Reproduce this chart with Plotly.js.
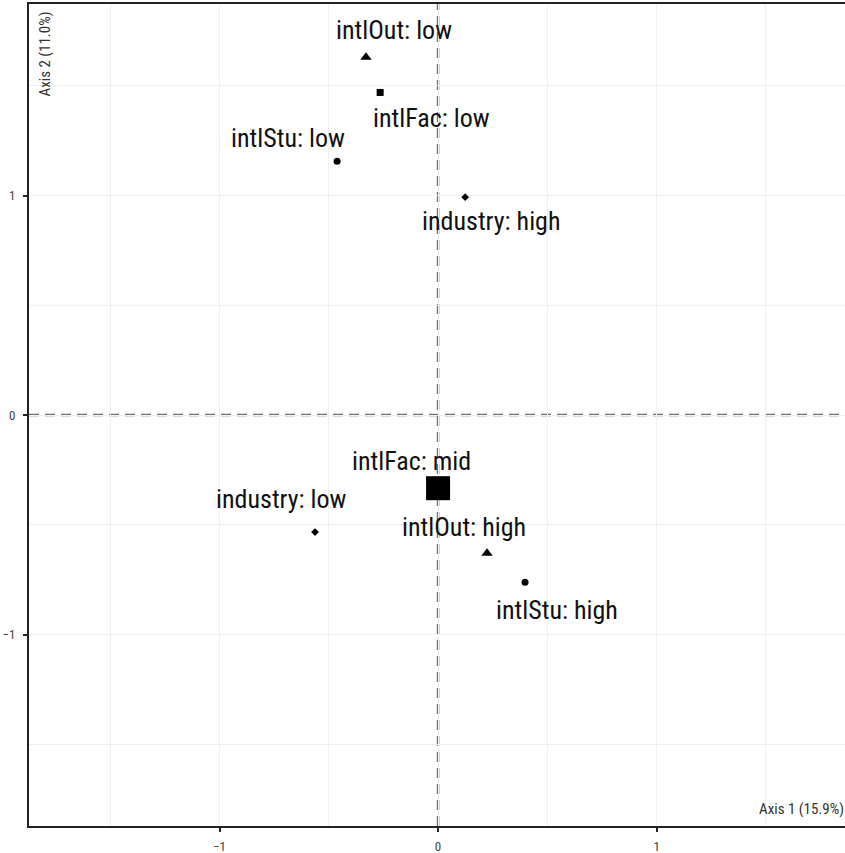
<!DOCTYPE html>
<html>
<head>
<meta charset="utf-8">
<script src="https://cdn.plot.ly/plotly-3.0.1.min.js"></script>
<style>
  html, body { margin: 0; padding: 0; overflow: hidden; background: #fff; }
  #chart { width: 848px; height: 853px; }
</style>
</head>
<body>
<div id="chart"></div>
<script>
// Category coordinates on the first two MCA axes
const labels = ["intlOut: low", "intlFac: low", "intlStu: low", "industry: high",
                "intlFac: mid", "industry: low", "intlOut: high", "intlStu: high"];
const variables = ["intlOut", "intlFac", "intlStu", "industry",
                   "intlFac", "industry", "intlOut", "intlStu"];
const dim1 = [-0.33, -0.265, -0.462, 0.124, 0.0, -0.563, 0.224, 0.398];
const dim2 = [1.63, 1.47, 1.157, 0.993, -0.333, -0.533, -0.629, -0.761];
const axisTitles = ["Axis 1 (15.9%)", "Axis 2 (11.0%)"];

// Styling: one symbol per variable, marker size per category, label offsets in px
const symbolOf = { intlOut: "triangle-up", intlFac: "square", intlStu: "circle", industry: "diamond" };
const markerSize = [10, 7, 7, 6, 24, 6, 10, 7];
const labelShift = [[28, 27], [51, -26], [-49, 23], [26, -24],
                    [-27, 27], [-34, 33], [-23, 26], [32, -28]];

const FONT = "'Roboto Condensed', 'Open Sans', sans-serif";

const trace = {
  type: "scatter",
  mode: "markers",
  x: dim1,
  y: dim2,
  text: labels,
  hoverinfo: "text",
  opacity: 1,
  marker: {
    color: "#000000",
    opacity: 1,
    size: markerSize,
    symbol: variables.map(v => symbolOf[v]),
    line: { width: 0, color: "#000000" }
  },
  showlegend: false
};

const annotations = labels.map((t, i) => ({
  x: dim1[i], y: dim2[i], xref: "x", yref: "y",
  text: t, showarrow: false,
  xshift: labelShift[i][0], yshift: labelShift[i][1],
  font: { family: FONT, size: 26, color: "#111" }
}));

annotations.push({
  xref: "paper", yref: "paper", x: 1, y: 0, xanchor: "right", yanchor: "bottom",
  xshift: -2, yshift: 6,
  text: axisTitles[0], showarrow: false,
  font: { family: FONT, size: 15, color: "#333" }
});
annotations.push({
  xref: "paper", yref: "paper", x: 0, y: 1, xanchor: "left", yanchor: "top",
  xshift: 4, yshift: -6, textangle: -90,
  text: axisTitles[1], showarrow: false,
  font: { family: FONT, size: 15, color: "#333" }
});

const axisCommon = {
  zeroline: false,
  showline: true, mirror: true, linecolor: "#222", linewidth: 2,
  ticks: "outside", ticklen: 4, tickwidth: 2, tickcolor: "#222",
  showgrid: true, gridcolor: "#f0f0f0", gridwidth: 1,
  dtick: 1, tick0: 0,
  minor: { dtick: 0.5, tick0: 0, showgrid: true, gridcolor: "#f0f0f0", gridwidth: 1, ticks: "" },
  tickfont: { family: FONT, size: 13, color: "#444" },
  fixedrange: true
};

const layout = {
  width: 848, height: 853,
  margin: { l: 29, r: 0, t: 4, b: 27 },
  paper_bgcolor: "#fff", plot_bgcolor: "#fff",
  xaxis: Object.assign({}, axisCommon, { range: [-1.872, 1.876], ticklabelstandoff: 3 }),
  yaxis: Object.assign({}, axisCommon, { range: [-1.872, 1.873], ticklabelstandoff: 5 }),
  shapes: [
    { type: "line", xref: "x", yref: "paper", x0: 0, x1: 0, y0: 0, y1: 1,
      line: { color: "#707070", width: 2.5, dash: "10px,6px" }, layer: "below" },
    { type: "line", xref: "paper", yref: "y", x0: 0, x1: 1, y0: 0, y1: 0,
      line: { color: "#707070", width: 2.5, dash: "10px,6px" }, layer: "below" }
  ],
  annotations: annotations
};

Plotly.newPlot("chart", [trace], layout, { displayModeBar: false, staticPlot: true });
</script>
</body>
</html>
